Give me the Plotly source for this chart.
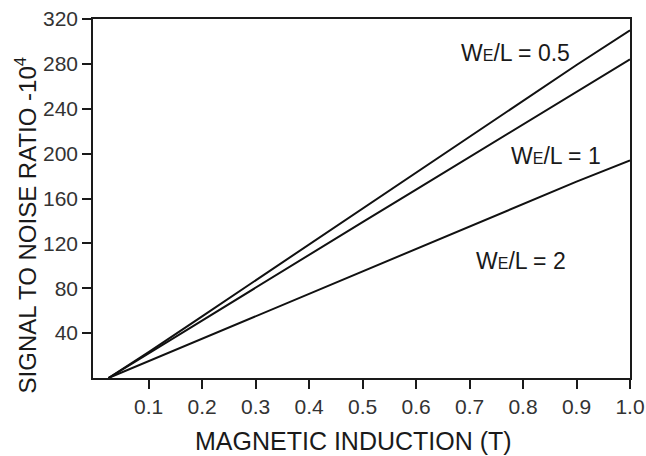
import plotly.graph_objects as go

# Magnetic induction (T) sample points
induction = [0.025, 0.1, 0.2, 0.3, 0.4, 0.5, 0.6, 0.7, 0.8, 0.9, 1.0]

# Signal-to-noise ratio (x10^4) for each electrode width / length ratio
snr_we_l_05 = [0, 23, 55, 87, 119, 151, 183, 215, 247, 279, 310]
snr_we_l_1 = [0, 22, 51, 81, 110, 139, 168, 197, 226, 255, 284]
snr_we_l_2 = [0, 15, 35, 55, 75, 95, 115, 135, 155, 175, 194]

x_ticks = [0.1, 0.2, 0.3, 0.4, 0.5, 0.6, 0.7, 0.8, 0.9, 1.0]
x_tick_text = ["0.1", "0.2", "0.3", "0.4", "0.5", "0.6", "0.7", "0.8", "0.9", "1.0"]
y_ticks = [40, 80, 120, 160, 200, 240, 280, 320]

FONT = "Liberation Sans, Arial, sans-serif"
INK = "#1a1a1a"

fig = go.Figure()
for series in (snr_we_l_05, snr_we_l_1, snr_we_l_2):
    fig.add_trace(go.Scatter(
        x=induction, y=series, mode="lines",
        line=dict(color="#111111", width=2),
        showlegend=False, hoverinfo="skip",
    ))


def ratio_label(value):
    return "W<span style='font-size:16px'>E</span>/L = " + value


# (ratio, x, y) placement of each curve label
labels = [
    ("0.5", 0.786, 290),
    ("1", 0.861, 198),
    ("2", 0.797, 104),
]
annotations = [
    dict(x=x, y=y, xref="x", yref="y", text=ratio_label(v), showarrow=False,
         font=dict(family=FONT, size=23, color=INK))
    for v, x, y in labels
]

annotations.append(dict(
    text="MAGNETIC INDUCTION (T)", xref="paper", yref="paper",
    x=0.485, y=0, yanchor="top", yshift=-47, showarrow=False,
    font=dict(family=FONT, size=25, color=INK),
))
annotations.append(dict(
    text="SIGNAL TO NOISE RATIO -10<sup>4</sup>", xref="paper", yref="paper",
    x=0, y=0.425, xanchor="right", xshift=-50, textangle=-90, showarrow=False,
    font=dict(family=FONT, size=24, color=INK),
))

axis_common = dict(
    showgrid=False, zeroline=False, showline=True, linecolor=INK, linewidth=1.5,
    mirror=True, ticks="outside", ticklen=9, tickwidth=1.5, tickcolor=INK,
    tickfont=dict(family=FONT, size=21, color="#333333"), automargin=False,
)

fig.update_layout(
    width=646, height=456,
    margin=dict(l=93, r=16, t=19, b=78),
    paper_bgcolor="white", plot_bgcolor="white",
    xaxis=dict(range=[-0.004, 1.0], tickvals=x_ticks, ticktext=x_tick_text, **axis_common),
    yaxis=dict(range=[0, 320], tickvals=y_ticks, **axis_common),
    annotations=annotations,
)

fig.write_html("out.html")
